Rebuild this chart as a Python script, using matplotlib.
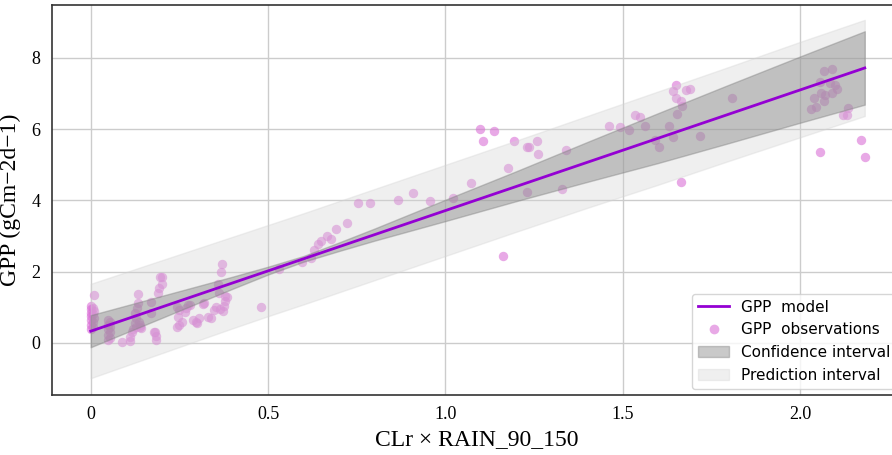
import matplotlib.pyplot as plt
from matplotlib.lines import Line2D
from matplotlib.patches import Patch

# observations
obs_x = [0.008, 0.0, 0.005, 0.0, 0.01, 0.0, 0.005, 0.0, 0.01, 0.0, 0.005, 0.0, 0.005, 0.0,
         0.05, 0.055, 0.05, 0.055, 0.05, 0.055, 0.05, 0.055, 0.05,
         0.087,
         0.11, 0.112, 0.115, 0.12, 0.124, 0.124, 0.129, 0.131, 0.134, 0.134, 0.138, 0.143, 0.128, 0.135, 0.14,
         0.171, 0.171, 0.181, 0.184, 0.184, 0.178, 0.19, 0.192, 0.2, 0.195, 0.2,
         0.242, 0.247, 0.243, 0.25, 0.256, 0.25, 0.266, 0.275, 0.28, 0.27, 0.289, 0.298, 0.299, 0.306, 0.317, 0.32,
         0.331, 0.338, 0.347, 0.353, 0.362, 0.36, 0.367, 0.371, 0.374, 0.376, 0.379, 0.383, 0.365, 0.378,
         0.48, 0.532, 0.595, 0.62, 0.63, 0.64, 0.65, 0.667, 0.678, 0.692, 0.724, 0.755, 0.788, 0.866, 0.909,
         0.956, 1.022, 1.072,
         1.097, 1.105, 1.137, 1.162, 1.178, 1.193, 1.229, 1.236, 1.23, 1.26, 1.261, 1.328, 1.339,
         1.461, 1.492, 1.518, 1.534, 1.549, 1.563, 1.59, 1.603, 1.63, 1.642, 1.641, 1.65, 1.65, 1.654, 1.664,
         1.667, 1.665, 1.678, 1.69, 1.719, 1.808,
         2.031, 2.045, 2.039, 2.056, 2.057, 2.059, 2.069, 2.067, 2.072, 2.085, 2.092, 2.092, 2.1, 2.104, 2.122,
         2.133, 2.137, 2.172, 2.183]
obs_y = [1.35, 1.05, 0.98, 0.95, 0.9, 0.85, 0.8, 0.75, 0.7, 0.65, 0.6, 0.5, 0.45, 0.4,
         0.65, 0.58, 0.5, 0.45, 0.38, 0.3, 0.22, 0.15, 0.07,
         0.04,
         0.05, 0.17, 0.32, 0.4, 0.55, 0.83, 0.46, 0.97, 1.11, 1.37, 0.46, 0.41, 0.7, 0.6, 0.5,
         1.16, 0.83, 0.32, 0.2, 0.07, 0.3, 1.41, 1.54, 1.66, 1.86, 1.85,
         0.46, 0.74, 1.0, 0.93, 0.6, 0.5, 0.88, 1.07, 1.07, 0.98, 0.65, 0.6, 0.57, 0.69, 1.1, 1.12,
         0.72, 0.69, 0.93, 1.02, 1.39, 1.65, 2.0, 2.21, 0.91, 1.04, 1.19, 1.3, 0.95, 1.33,
         1.0, 2.08, 2.27, 2.38, 2.61, 2.78, 2.86, 3.0, 2.93, 3.19, 3.38, 3.94, 3.94, 4.02, 4.22,
         3.98, 4.07, 4.5,
         6.01, 5.68, 5.95, 2.44, 4.92, 5.68, 5.51, 5.49, 4.24, 5.67, 5.3, 4.32, 5.42,
         6.08, 6.06, 5.98, 6.39, 6.34, 6.08, 5.7, 5.51, 6.08, 5.78, 7.06, 7.25, 6.89, 6.43, 6.8,
         6.66, 4.51, 7.1, 7.14, 5.82, 6.87,
         6.57, 6.62, 6.89, 7.32, 5.37, 7.03, 7.64, 6.79, 6.95, 7.29, 7.69, 7.01, 7.25, 7.13, 6.4,
         6.4, 6.59, 5.69, 5.22]

# fitted model line
model_x = [0.0, 2.183]
model_y = [0.33, 7.72]

# interval edges at a few x positions
band_x = [0.0, 0.1, 0.2, 0.3, 0.4, 0.5, 0.6, 0.7, 0.8, 1.0, 1.2, 1.4, 1.6, 1.8, 2.0, 2.183]
ci_lo = [-0.12, 0.29, 0.70, 1.11, 1.52, 1.92, 2.28, 2.58, 2.87, 3.42, 3.98, 4.52, 5.05, 5.61, 6.18, 6.69]
ci_hi = [0.78, 1.05, 1.32, 1.59, 1.86, 2.14, 2.44, 2.82, 3.21, 4.02, 4.82, 5.64, 6.45, 7.25, 8.04, 8.75]
pi_lo = [-0.99, -0.64, -0.29, 0.06, 0.41, 0.75, 1.08, 1.42, 1.76, 2.44, 3.12, 3.79, 4.44, 5.11, 5.77, 6.37]
pi_hi = [1.66, 1.99, 2.32, 2.65, 2.98, 3.31, 3.64, 3.98, 4.32, 5.00, 5.68, 6.37, 7.06, 7.75, 8.45, 9.07]

xtick_vals = [0, 0.5, 1.0, 1.5, 2.0]
xtick_labels = ["0", "0.5", "1.0", "1.5", "2.0"]
ytick_vals = [0, 2, 4, 6, 8]

serif = "Liberation Serif"

fig = plt.figure(figsize=(8.92, 4.55), dpi=100)
ax = fig.add_axes([0.058, 0.132, 0.954, 0.858])

# points first, then bands on top, then the model line
ax.scatter(obs_x, obs_y, s=46, color="orchid", alpha=0.6, linewidths=0, zorder=2)
ax.fill_between(band_x, pi_lo, pi_hi, color="lightgray", alpha=0.35, zorder=3)
ax.fill_between(band_x, ci_lo, ci_hi, color="gray", alpha=0.42, zorder=4)
ax.plot(model_x, model_y, color="darkviolet", linewidth=2, zorder=5)

ax.set_xlim(-0.11, 2.29)
ax.set_ylim(-1.46, 9.5)
ax.set_xticks(xtick_vals)
ax.set_xticklabels(xtick_labels, fontfamily=serif, fontsize=13)
ax.set_yticks(ytick_vals)
ax.set_yticklabels([str(v) for v in ytick_vals], fontfamily=serif, fontsize=13)
ax.tick_params(length=0, pad=8)
ax.grid(True, color="#cccccc", linewidth=1)
ax.set_axisbelow(True)
for side in ["left", "bottom", "top", "right"]:
    ax.spines[side].set_color("#333333")
    ax.spines[side].set_linewidth(1.2)

ax.set_xlabel("CLr × RAIN_90_150", fontfamily=serif, fontsize=17, labelpad=4)
ax.set_ylabel("GPP (gCm−2d−1)", fontfamily=serif, fontsize=17, labelpad=8)

handles = [
    Line2D([], [], color="darkviolet", linewidth=2),
    Line2D([], [], marker="o", linestyle="", markersize=7, markerfacecolor="orchid",
           markeredgewidth=0, alpha=0.6),
    Patch(facecolor="gray", edgecolor="gray", alpha=0.42),
    Patch(facecolor="lightgray", edgecolor="lightgray", alpha=0.35),
]
labels = ["GPP  model", "GPP  observations", "Confidence interval", "Prediction interval"]
ax.legend(handles, labels, loc="lower right", fontsize=11, framealpha=0.8, borderaxespad=0.4)

fig.savefig("out.png", dpi=100)
